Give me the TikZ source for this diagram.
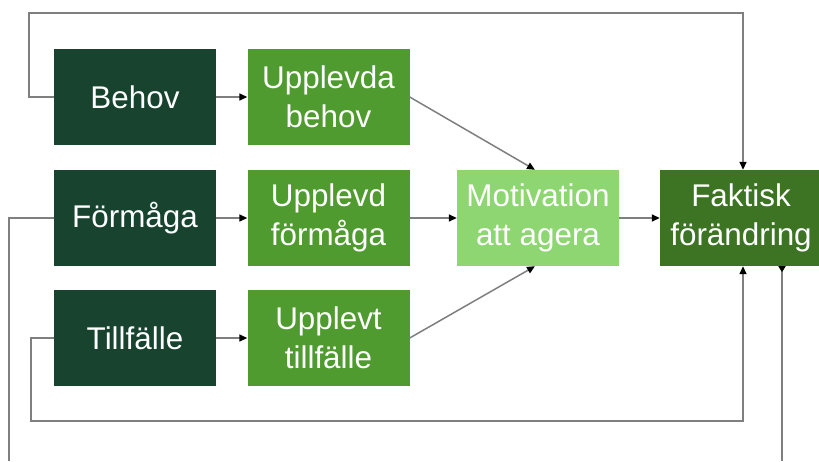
\documentclass[tikz,border=0pt]{standalone}
\usepackage{fontspec}
\setmainfont{Liberation Sans}
\usetikzlibrary{arrows.meta}
\definecolor{darkgreen}{HTML}{17432F}
\definecolor{midgreen}{HTML}{4F9B2F}
\definecolor{lightgreen}{HTML}{8DD672}
\definecolor{resultgreen}{HTML}{3C7424}
\definecolor{linegray}{HTML}{7F7F7F}
\tikzset{
  box/.style={minimum width=162pt, minimum height=96pt, inner sep=0pt,
    text=white, align=center, font=\fontsize{31.4}{38.5}\selectfont},
  factor/.style={box, fill=darkgreen},
  perceived/.style={box, fill=midgreen},
  motive/.style={box, fill=lightgreen},
  result/.style={box, fill=resultgreen},
  link/.style={draw=linegray, line width=1.5pt,
    -{Triangle[length=8pt, width=7pt, color=black]}},
  plainlink/.style={draw=linegray, line width=1.5pt},
  revlink/.style={draw=linegray, line width=1.5pt,
    -{Triangle[reversed, length=6pt, width=7pt, color=black]}}
}
\begin{document}
\begin{tikzpicture}[x=1pt, y=-1pt]
  \clip (0,0) rectangle (819,461);
  \fill[white] (0,0) rectangle (819,461);

  % factors and how they are perceived
  \node[factor]    (behov)   at (135,97)  {Behov};
  \node[perceived] (ubehov)  at (328.5,97) {Upplevda\\behov};
  \node[factor]    (formaga) at (135,218) {Förmåga};
  \node[perceived] (uformaga) at (328.5,218) {Upplevd\\förmåga};
  \node[factor]    (tillf)   at (135,338) {Tillfälle};
  \node[perceived] (utillf)  at (328.5,338) {Upplevt\\tillfälle};

  % motivation and outcome
  \node[motive] (motiv)  at (538,218) {Motivation\\att agera};
  \node[result] (faktisk) at (741,218) {Faktisk\\förändring};

  % free ends at the bottom edge
  \coordinate (downend) at (9,461);
  \coordinate (upstart) at (782,461);

  % main flow
  \draw[link] (behov) -- (ubehov);
  \draw[link] (formaga) -- (uformaga);
  \draw[link] (tillf) -- (utillf);
  \draw[link] (ubehov.east) -- (motiv.north -| 535,0);
  \draw[link] (uformaga) -- (motiv);
  \draw[link] (utillf.east) -- (motiv.south -| 535,0);
  \draw[link] (motiv) -- (faktisk);

  % feedback paths around the boxes
  \draw[link] (behov.west) -- (29,97) -- (29,13) -- (743,13) -- (faktisk.north -| 743,0);
  \draw[link] (tillf.west) -- (31,338) -- (31,421) -- (743,421) -- (faktisk.south -| 743,0);
  \draw[plainlink] (formaga.west) -- (9,218) -- (downend);
  \draw[revlink] (upstart) -- (faktisk.south -| upstart);
\end{tikzpicture}
\end{document}
